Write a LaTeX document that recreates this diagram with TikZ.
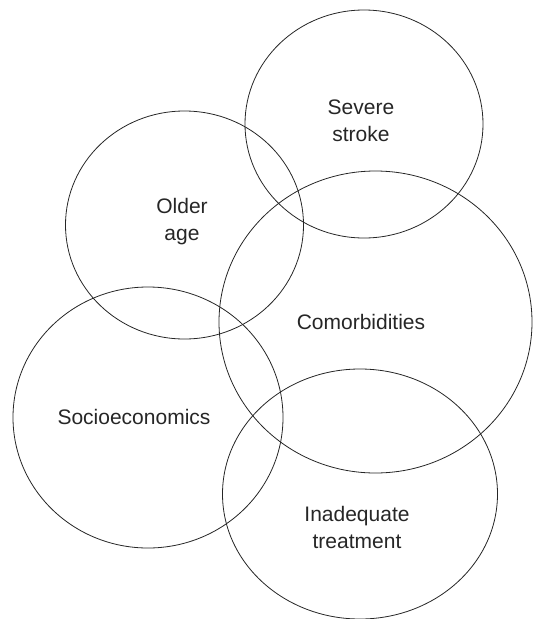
\documentclass[tikz,border=0pt]{standalone}
\usepackage{fontspec}
\setmainfont{Liberation Sans}
\usetikzlibrary{shapes.geometric}
\begin{document}
\begin{tikzpicture}[x=1pt,y=-1pt,
  factor/.style={draw=black!85, line width=0.8pt, ellipse, inner sep=0pt},
  lbl/.style={align=center, text=black!85, font=\fontsize{21}{27}\selectfont, inner sep=0pt}]
\useasboundingbox (0,0) rectangle (533,619);
% overlapping risk-factor regions
\node[factor, minimum width=238pt, minimum height=228pt] (stroke) at (364,124) {};
\node[factor, minimum width=238pt, minimum height=228pt] (age) at (184.5,225) {};
\node[factor, minimum width=313pt, minimum height=302pt] (comorb) at (375.5,322) {};
\node[factor, minimum width=270pt, minimum height=261pt] (socio) at (148,417.5) {};
\node[factor, minimum width=275pt, minimum height=250pt] (treat) at (360,494) {};
% labels
\node[lbl] (tstroke) at (361,121) {Severe\\stroke};
\node[lbl] (tage) at (182,222) {Older\\age};
\node[lbl] (tcomorb) at (361,322) {Comorbidities};
\node[lbl] (tsocio) at (134,417) {Socioeconomics};
\node[lbl] (ttreat) at (357,527) {Inadequate\\treatment};
\end{tikzpicture}
\end{document}
